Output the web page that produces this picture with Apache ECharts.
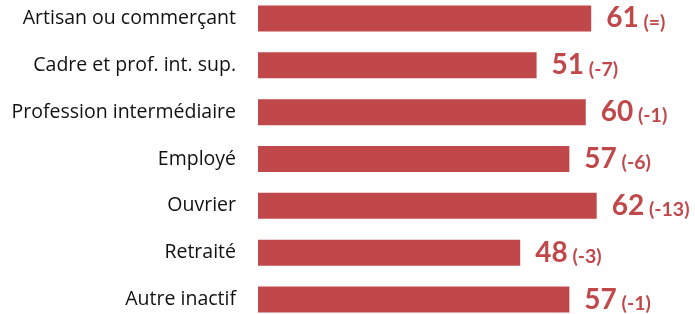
<!DOCTYPE html>
<html>
<head>
<meta charset="utf-8">
<script src="https://cdn.jsdelivr.net/npm/echarts@6/dist/echarts.min.js"></script>
<style>
  html, body { margin: 0; padding: 0; background: #fff; }
  #chart { width: 695px; height: 314px; }
</style>
</head>
<body>
<div id="chart"></div>
<script>
// catégories socio-professionnelles
var categories = ['Artisan ou commerçant', 'Cadre et prof. int. sup.', 'Profession intermédiaire', 'Employé', 'Ouvrier', 'Retraité', 'Autre inactif'];
// scores
var values = [61, 51, 60, 57, 62, 48, 57];
// évolution affichée entre parenthèses
var changes = ['=', '-7', '-1', '-6', '-13', '-3', '-1'];

var red = '#c0484a';
var myChart = echarts.init(document.getElementById('chart'));

var option = {
  animation: false,
  grid: { left: 258, right: 0, top: -5, height: 328, outerBoundsMode: 'none' },
  xAxis: {
    type: 'value',
    min: 0,
    max: 80,
    show: false
  },
  yAxis: {
    type: 'category',
    inverse: true,
    data: categories,
    axisLine: { show: false },
    axisTick: { show: false },
    axisLabel: {
      margin: 22,
      color: '#111',
      fontSize: 19.5,
      fontFamily: 'Open Sans'
    }
  },
  series: [
    {
      type: 'bar',
      data: values,
      barWidth: 26,
      itemStyle: { color: red },
      label: {
        show: true,
        position: 'right',
        distance: 15,
        formatter: function (p) {
          return '{a|' + p.value + '}{b| (' + changes[p.dataIndex] + ')}';
        },
        rich: {
          a: { fontSize: 28, fontWeight: 'bold', color: red, fontFamily: 'Lato', lineHeight: 28, verticalAlign: 'bottom' },
          b: { fontSize: 19.5, fontWeight: 'bold', color: red, fontFamily: 'Lato', lineHeight: 21, verticalAlign: 'bottom' }
        }
      }
    }
  ]
};
myChart.setOption(option);
</script>
</body>
</html>
